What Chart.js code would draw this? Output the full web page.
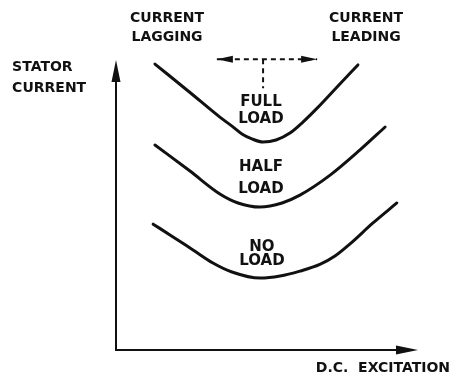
<!DOCTYPE html>
<html>
<head>
  <title>Synchronous Motor V-Curves</title>
  <script src="https://cdn.jsdelivr.net/npm/chart.js"></script>
  <style>
    html, body { margin: 0; padding: 0; background: #fff; }
    #wrap { width: 452px; height: 376px; }
  </style>
</head>
<body>
  <div id="wrap"><canvas id="myChart" width="452" height="376"></canvas></div>

  <script>
    // D.C. excitation (x) against stator current (y), arbitrary units 0..10
    let fullLoadX = [1.29, 2.45, 3.44, 3.84, 4.17, 4.50, 4.87, 5.30, 5.76, 6.19, 6.66, 7.32, 8.01];
    let fullLoadY = [9.86, 8.88, 8.03, 7.72, 7.45, 7.28, 7.17, 7.24, 7.48, 7.86, 8.34, 9.07, 9.83];

    let halfLoadX = [1.29, 2.45, 3.44, 4.04, 4.77, 5.50, 6.09, 7.09, 8.08, 8.91];
    let halfLoadY = [7.07, 6.17, 5.38, 5.07, 4.93, 5.07, 5.34, 6.03, 6.90, 7.69];

    let noLoadX = [1.23, 1.89, 2.55, 3.21, 3.84, 4.77, 5.43, 6.09, 6.75, 7.25, 7.75, 8.51, 9.30];
    let noLoadY = [4.34, 3.90, 3.45, 3.00, 2.69, 2.48, 2.55, 2.72, 2.95, 3.24, 3.66, 4.38, 5.07];

    // dashed marker showing the lagging / leading shift
    let shiftX = [3.34, 6.66];
    let shiftY = 10.03;
    let shiftStemX = 4.87;
    let shiftStemY = [10.03, 9.03];

    // text labels: [text, x, y, align]
    let curveLabels = [
      ['FULL', 4.80, 8.55], ['LOAD', 4.80, 7.97],
      ['HALF', 4.80, 6.31], ['LOAD', 4.80, 5.55],
      ['NO', 4.83, 3.55], ['LOAD', 4.83, 3.07]
    ];
    let axisLabels = [
      ['CURRENT', 1.69, 11.45, 'center'], ['LAGGING', 1.69, 10.79, 'center'],
      ['CURRENT', 8.28, 11.45, 'center'], ['LEADING', 8.28, 10.79, 'center'],
      ['STATOR', -3.44, 9.76, 'left'], ['CURRENT', -3.44, 9.03, 'left'],
      ['D.C.  EXCITATION', 11.06, -0.62, 'right']
    ];

    function toPoints(xs, ys) {
      let pts = [];
      for (let i = 0; i < xs.length; i++) {
        pts.push({ x: xs[i], y: ys[i] });
      }
      return pts;
    }

    function curve(xs, ys) {
      return {
        data: toPoints(xs, ys),
        showLine: true,
        borderColor: '#111',
        borderWidth: 3,
        borderCapStyle: 'round',
        pointRadius: 0,
        cubicInterpolationMode: 'monotone',
        fill: false
      };
    }

    function arrowHead(ctx, tipX, tipY, dx, dy, len, half) {
      // dx, dy: unit direction the arrow points in
      ctx.beginPath();
      ctx.moveTo(tipX, tipY);
      ctx.lineTo(tipX - dx * len - dy * half, tipY - dy * len + dx * half);
      ctx.lineTo(tipX - dx * len + dy * half, tipY - dy * len - dx * half);
      ctx.closePath();
      ctx.fill();
    }

    let decorations = {
      id: 'decorations',
      afterDraw(chart) {
        let ctx = chart.ctx;
        let area = chart.chartArea;
        let xs = chart.scales.x;
        let ys = chart.scales.y;
        ctx.save();
        ctx.strokeStyle = '#111';
        ctx.fillStyle = '#111';

        // axes with arrows
        ctx.lineWidth = 2;
        ctx.beginPath();
        ctx.moveTo(area.left, area.top + 10);
        ctx.lineTo(area.left, area.bottom);
        ctx.lineTo(area.right - 10, area.bottom);
        ctx.stroke();
        arrowHead(ctx, area.left, area.top, 0, -1, 22, 4.5);
        arrowHead(ctx, area.right, area.bottom, 1, 0, 22, 4.5);

        // arrowheads of the dashed shift marker
        let sy = ys.getPixelForValue(shiftY);
        arrowHead(ctx, xs.getPixelForValue(shiftX[0]), sy, -1, 0, 16, 3.5);
        arrowHead(ctx, xs.getPixelForValue(shiftX[1]), sy, 1, 0, 16, 3.5);

        ctx.textBaseline = 'middle';
        ctx.font = 'bold 15px "DejaVu Sans"';
        ctx.textAlign = 'center';
        curveLabels.forEach(l => {
          ctx.fillText(l[0], xs.getPixelForValue(l[1]), ys.getPixelForValue(l[2]));
        });
        ctx.font = 'bold 14px "DejaVu Sans"';
        axisLabels.forEach(l => {
          ctx.textAlign = l[3];
          ctx.fillText(l[0], xs.getPixelForValue(l[1]), ys.getPixelForValue(l[2]));
        });
        ctx.restore();
      }
    };

    let dashed = {
      showLine: true,
      borderColor: '#111',
      borderWidth: 2,
      borderDash: [5, 4],
      pointRadius: 0,
      fill: false
    };

    let ctx = document.getElementById('myChart').getContext('2d');
    let myChart = new Chart(ctx, {
      type: 'scatter',
      data: {
        datasets: [
          curve(fullLoadX, fullLoadY),
          curve(halfLoadX, halfLoadY),
          curve(noLoadX, noLoadY),
          Object.assign({ data: [{ x: shiftX[0], y: shiftY }, { x: shiftX[1], y: shiftY }] }, dashed),
          Object.assign({ data: [{ x: shiftStemX, y: shiftStemY[0] }, { x: shiftStemX, y: shiftStemY[1] }] }, dashed)
        ]
      },
      options: {
        responsive: false,
        animation: false,
        layout: { padding: { left: 116, right: 34, top: 60, bottom: 26 } },
        plugins: { legend: { display: false }, tooltip: { enabled: false } },
        scales: {
          x: { type: 'linear', min: 0, max: 10, display: false },
          y: { type: 'linear', min: 0, max: 10, display: false }
        },
        clip: false
      },
      plugins: [decorations]
    });
  </script>
</body>
</html>
